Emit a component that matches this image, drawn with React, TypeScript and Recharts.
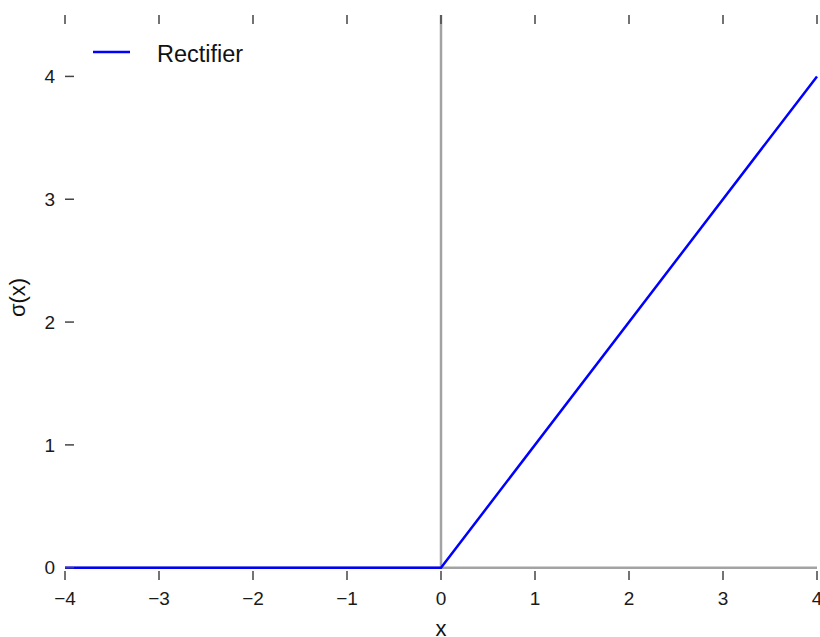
import React from 'react';
import { LineChart, Line, XAxis, YAxis, ReferenceLine, Legend } from 'recharts';

// valeurs
const xValues = [-4, 0, 4];
const rectifier = [0, 0, 4];
const xTicks = [-4, -3, -2, -1, 0, 1, 2, 3, 4];
const yTicks = [0, 1, 2, 3, 4];
const seriesName = 'Rectifier';

const data = xValues.map((x, i) => ({ x, y: rectifier[i] }));

const FONT = '"Liberation Sans", Arial, Helvetica, sans-serif';
const TICK = '#444';

const fmt = (v: number) => (v < 0 ? '\u2212' + Math.abs(v) : String(v));

const BottomTick = (props: any) => {
  const { x, y, payload } = props;
  return (
    <g>
      <line x1={x} x2={x} y1={y} y2={y - 9} stroke={TICK} strokeWidth={1.5} />
      <text x={x} y={y + 25} textAnchor="middle" fontSize={19} fill="#1a1a1a" fontFamily={FONT}>
        {fmt(payload.value)}
      </text>
    </g>
  );
};

const TopTick = (props: any) => {
  const { x, y } = props;
  return <line x1={x} x2={x} y1={y} y2={y + 9} stroke={TICK} strokeWidth={1.5} />;
};

const LeftTick = (props: any) => {
  const { x, y, payload } = props;
  return (
    <g>
      <line x1={x} x2={x + 9} y1={y} y2={y} stroke={TICK} strokeWidth={1.5} />
      <text x={x - 10} y={y} dy="0.35em" textAnchor="end" fontSize={19} fill="#1a1a1a" fontFamily={FONT}>
        {fmt(payload.value)}
      </text>
    </g>
  );
};

const RightTick = (props: any) => {
  const { x, y } = props;
  return <line x1={x} x2={x - 9} y1={y} y2={y} stroke={TICK} strokeWidth={1.5} />;
};

const LegendBox = () => (
  <svg width={180} height={32}>
    <line x1={3} x2={40} y1={14} y2={14} stroke="#0000ff" strokeWidth={2.5} />
    <text x={67} y={24} fontSize={23.5} fill="#111" fontFamily={FONT}>
      {seriesName}
    </text>
  </svg>
);

export default function App() {
  return (
    <div style={{ position: 'absolute', left: 0, top: 0, width: 820, height: 637 }}>
      <LineChart width={820} height={637} data={data} margin={{ top: 0, right: 0, bottom: 0, left: 0 }}>
        <XAxis
          xAxisId="bottom"
          dataKey="x"
          type="number"
          domain={[-4, 4]}
          ticks={xTicks}
          orientation="bottom"
          height={57}
          axisLine={false}
          tickLine={false}
          tickSize={0}
          tickMargin={0}
          tick={<BottomTick />}
          interval={0}
        />
        <XAxis
          xAxisId="top"
          dataKey="x"
          type="number"
          domain={[-4, 4]}
          ticks={xTicks}
          orientation="top"
          height={15}
          axisLine={false}
          tickLine={false}
          tickSize={0}
          tickMargin={0}
          tick={<TopTick />}
          interval={0}
        />
        <YAxis
          yAxisId="left"
          type="number"
          domain={[-0.1, 4.5]}
          ticks={yTicks}
          orientation="left"
          width={65}
          axisLine={false}
          tickLine={false}
          tickSize={0}
          tickMargin={0}
          tick={<LeftTick />}
          interval={0}
          label={{
            value: '\u03c3(x)',
            angle: -90,
            position: 'insideLeft',
            dx: 12,
            style: { fontSize: 22, fill: '#111', fontFamily: FONT, textAnchor: 'middle' },
          }}
        />
        <YAxis
          yAxisId="right"
          type="number"
          domain={[-0.1, 4.5]}
          ticks={yTicks}
          orientation="right"
          width={3}
          axisLine={false}
          tickLine={false}
          tickSize={0}
          tickMargin={0}
          tick={<RightTick />}
          interval={0}
        />
        <ReferenceLine
          xAxisId="bottom"
          yAxisId="left"
          segment={[{ x: 0, y: 0 }, { x: 0, y: 4.5 }]}
          stroke="#a3a3a3"
          strokeWidth={2.5}
        />
        <ReferenceLine
          xAxisId="bottom"
          yAxisId="left"
          segment={[{ x: -4, y: 0 }, { x: 4, y: 0 }]}
          stroke="#a3a3a3"
          strokeWidth={2.5}
        />
        <Line
          xAxisId="bottom"
          yAxisId="left"
          dataKey="y"
          name={seriesName}
          stroke="#0000ff"
          strokeWidth={2.5}
          dot={false}
          activeDot={false}
          isAnimationActive={false}
        />
        <Legend
          layout="horizontal"
          verticalAlign="middle"
          align="center"
          content={<LegendBox />}
          wrapperStyle={{ position: 'absolute', left: 90, top: 38, width: 180, height: 32 }}
        />
      </LineChart>
      <div
        style={{
          position: 'absolute',
          left: 0,
          top: 618,
          width: 820,
          textAlign: 'center',
          paddingLeft: 62,
          boxSizing: 'border-box',
          fontFamily: FONT,
          fontSize: 22,
          color: '#111',
          lineHeight: '22px',
          pointerEvents: 'none',
        }}
      >
        x
      </div>
    </div>
  );
}
